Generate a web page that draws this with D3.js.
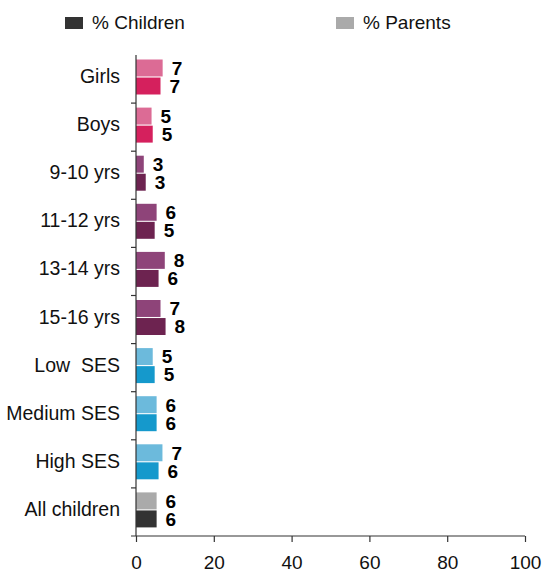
<!DOCTYPE html>
<html>
<head>
<meta charset="utf-8">
<script src="https://cdn.jsdelivr.net/npm/d3@7"></script>
<style>
  body { margin: 0; background: #fff; }
  svg { display: block; font-family: "Liberation Sans", Arial, sans-serif; }
</style>
</head>
<body>
<svg id="chart" width="543" height="573"></svg>
<script>
const categories = ["Girls", "Boys", "9-10 yrs", "11-12 yrs", "13-14 yrs", "15-16 yrs", "Low  SES", "Medium SES", "High SES", "All children"];
const parentValues = [6.85, 4.0, 2.0, 5.3, 7.4, 6.3, 4.3, 5.3, 6.8, 5.3];
const childValues  = [6.3, 4.3, 2.5, 4.8, 5.8, 7.6, 4.8, 5.3, 5.8, 5.3];
const parentLabels = [7, 5, 3, 6, 8, 7, 5, 6, 7, 6];
const childLabels  = [7, 5, 3, 5, 6, 8, 5, 6, 6, 6];
const groups = ["gender", "gender", "age", "age", "age", "age", "ses", "ses", "ses", "all"];
const parentColors = { gender: "#dc6b95", age: "#8e4479", ses: "#6cbadc", all: "#aaaaaa" };
const childColors  = { gender: "#d5205d", age: "#6d2350", ses: "#1599cc", all: "#333333" };
const xTicks = [0, 20, 40, 60, 80, 100];
const legendItems = ["% Children", "% Parents"];
const legendColors = ["#333333", "#aaaaaa"];

const svg = d3.select("#chart");
const margin = { left: 136, right: 18, top: 55, bottom: 37 };
const W = 543, H = 573;

const x = d3.scaleLinear().domain([0, 100]).range([margin.left, W - margin.right]);
const y = d3.scaleBand().domain(categories).range([margin.top, H - margin.bottom]).paddingInner(0).paddingOuter(0);
const inner = d3.scaleBand().domain(["parent", "child"]).range([4.5, 39.5]).paddingInner(0.06).paddingOuter(0);

// bars
const rows = categories.map((c, i) => ({ c, i }));
const g = svg.append("g");
rows.forEach(({ c, i }) => {
  const series = [
    { key: "parent", v: parentValues[i], lab: parentLabels[i], col: parentColors[groups[i]] },
    { key: "child", v: childValues[i], lab: childLabels[i], col: childColors[groups[i]] }
  ];
  series.forEach(s => {
    const yy = y(c) + inner(s.key);
    g.append("rect")
      .attr("x", x(0))
      .attr("y", yy)
      .attr("width", x(s.v) - x(0))
      .attr("height", inner.bandwidth())
      .attr("fill", s.col);
    g.append("text")
      .attr("x", x(s.v) + 9)
      .attr("y", yy + inner.bandwidth() / 2)
      .attr("dy", "0.36em")
      .attr("font-size", 19)
      .attr("font-weight", "bold")
      .attr("fill", "#000")
      .text(s.lab);
  });
});

// category labels
svg.append("g").selectAll("text").data(categories).join("text")
  .attr("x", 120)
  .attr("y", d => y(d) + 28)
  .attr("text-anchor", "end")
  .attr("font-size", 19.5)
  .attr("fill", "#111")
  .style("white-space", "pre")
  .attr("xml:space", "preserve")
  .text(d => d);

// y axis line with boundary ticks
const axisColor = "#333";
svg.append("line")
  .attr("x1", x(0)).attr("x2", x(0))
  .attr("y1", margin.top).attr("y2", H - margin.bottom)
  .attr("stroke", axisColor).attr("stroke-width", 1.2);
svg.append("g").selectAll("line").data(categories.slice(1)).join("line")
  .attr("x1", x(0) - 5).attr("x2", x(0))
  .attr("y1", d => y(d)).attr("y2", d => y(d))
  .attr("stroke", axisColor).attr("stroke-width", 1.2);

// x axis
const xAxis = d3.axisBottom(x).tickValues(xTicks).tickSize(6).tickPadding(14).tickSizeOuter(0);
const xg = svg.append("g")
  .attr("transform", `translate(0,${H - margin.bottom})`)
  .call(xAxis);
xg.select(".domain").remove();
xg.append("line")
  .attr("x1", x(0) - 5).attr("x2", x(100))
  .attr("y1", 0).attr("y2", 0)
  .attr("stroke", axisColor).attr("stroke-width", 1.2);
xg.selectAll(".tick line").attr("stroke", axisColor).attr("stroke-width", 1.2);
xg.selectAll(".tick text")
  .attr("font-size", 19)
  .attr("font-family", "Liberation Sans, Arial, sans-serif")
  .attr("fill", "#111");

// legend
const legendX = [65, 336];
legendItems.forEach((t, i) => {
  svg.append("rect")
    .attr("x", legendX[i]).attr("y", 17)
    .attr("width", 18).attr("height", 12)
    .attr("fill", legendColors[i]);
  svg.append("text")
    .attr("x", legendX[i] + 27).attr("y", 28.5)
    .attr("font-size", 19)
    .attr("fill", "#111")
    .text(t);
});
</script>
</body>
</html>
